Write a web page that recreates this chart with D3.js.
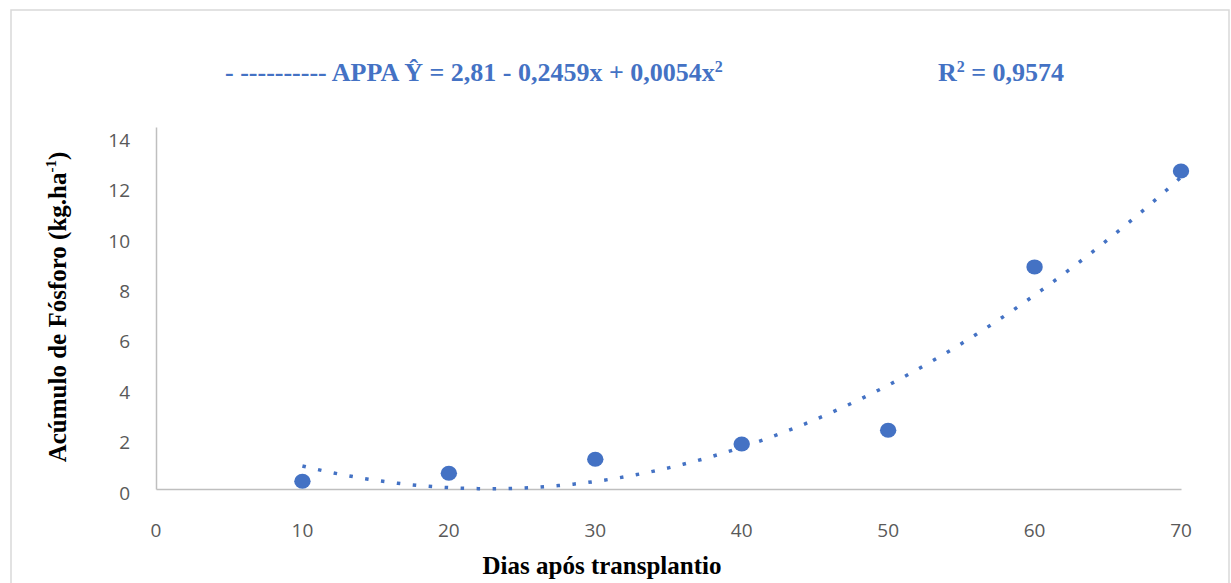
<!DOCTYPE html>
<html>
<head>
<meta charset="utf-8">
<script src="https://cdn.jsdelivr.net/npm/d3@7/dist/d3.min.js"></script>
<style>
  html, body { margin: 0; padding: 0; background: #fff; }
  svg { display: block; }
</style>
</head>
<body>
<svg id="chart" width="1231" height="583"></svg>
<script>
// ---- data ----
const days = [10, 20, 30, 40, 50, 60, 70];
const phosphorus = [0.30, 0.61, 1.15, 1.74, 2.27, 8.59, 12.30];
const xTicks = [0, 10, 20, 30, 40, 50, 60, 70];
const yTicks = [0, 2, 4, 6, 8, 10, 12, 14];
const trendCoefficients = [2.81, -0.2459, 0.0054]; // APPA Ŷ = 2,81 - 0,2459x + 0,0054x²
const trendRange = [10, 70];
const legendEquation = "APPA Ŷ = 2,81 - 0,2459x + 0,0054x";
const legendR2 = " = 0,9574";
const xTitle = "Dias após transplantio";
const yTitle = "Acúmulo de Fósforo (kg.ha";

const blue = "#4472C4";
const svg = d3.select("#chart");

// outer chart border
svg.append("rect").attr("x", 11).attr("y", 10).attr("width", 1218).attr("height", 600)
  .attr("fill", "none").attr("stroke", "#d9d9d9").attr("stroke-width", 1.5);

const x = d3.scaleLinear().domain([0, 70]).range([156, 1181]);
const y = d3.scaleLinear().domain([0, 14]).range([489, 127]);
// tick labels of the reference sit slightly off the plotted scale
const yLab = d3.scaleLinear().domain([0, 14]).range([493, 140]);

// axes lines
const xAxis = d3.axisBottom(x).tickValues(xTicks).tickSize(0).tickPadding(0).tickFormat("");
svg.append("g").attr("transform", `translate(0,${y(0)})`).call(xAxis)
  .call(g => g.select(".domain").attr("stroke", "#bfbfbf").attr("stroke-width", 1.5));
const yAxis = d3.axisLeft(y).tickValues(yTicks).tickSize(0).tickFormat("");
svg.append("g").attr("transform", `translate(${x(0)},0)`).call(yAxis)
  .call(g => g.select(".domain").attr("stroke", "#bfbfbf").attr("stroke-width", 1.5));

// tick labels
svg.append("g").selectAll("text").data(xTicks).join("text")
  .attr("x", d => x(d)).attr("y", 537)
  .attr("text-anchor", "middle")
  .attr("font-family", "'Open Sans', sans-serif").attr("font-size", 19)
  .attr("fill", "#595959").text(d => d);
svg.append("g").selectAll("text").data(yTicks).join("text")
  .attr("x", 130).attr("y", d => yLab(d)).attr("dy", "0.35em")
  .attr("text-anchor", "end")
  .attr("font-family", "'Open Sans', sans-serif").attr("font-size", 19)
  .attr("fill", "#595959").text(d => d);

// trend line
const poly = v => trendCoefficients[0] + trendCoefficients[1] * v + trendCoefficients[2] * v * v;
const trendPts = d3.range(trendRange[0], trendRange[1] + 0.001, 0.5).map(v => [v, poly(v)]);
svg.append("path").datum(trendPts)
  .attr("d", d3.line().x(d => x(d[0])).y(d => y(d[1])).curve(d3.curveMonotoneX))
  .attr("fill", "none").attr("stroke", blue).attr("stroke-width", 3.5)
  .attr("stroke-dasharray", "3.5,12.5");

// points
svg.append("g").selectAll("ellipse").data(days).join("ellipse")
  .attr("cx", d => x(d)).attr("cy", (d, i) => y(phosphorus[i]))
  .attr("rx", 8.2).attr("ry", 7.5).attr("fill", blue);

// legend
const leg = svg.append("text").attr("x", 225).attr("y", 81)
  .attr("font-family", "'Liberation Serif', 'Times New Roman', serif")
  .attr("font-weight", "bold").attr("font-size", 26).attr("fill", blue);
leg.append("tspan").text("- ---------- " + legendEquation);
leg.append("tspan").attr("font-size", 16).attr("dy", -9).text("2");

const r2 = svg.append("text").attr("x", 938).attr("y", 81)
  .attr("font-family", "'Liberation Serif', 'Times New Roman', serif")
  .attr("font-weight", "bold").attr("font-size", 26).attr("fill", blue);
r2.append("tspan").text("R");
r2.append("tspan").attr("font-size", 16).attr("dy", -9).text("2");
r2.append("tspan").attr("dy", 9).text(legendR2);

// axis titles
svg.append("text").attr("x", 602).attr("y", 574).attr("text-anchor", "middle")
  .attr("font-family", "'Liberation Serif', 'Times New Roman', serif")
  .attr("font-weight", "bold").attr("font-size", 25).attr("fill", "#000").text(xTitle);

const yt = svg.append("text").attr("transform", "translate(66,307) rotate(-90)")
  .attr("text-anchor", "middle")
  .attr("font-family", "'Liberation Serif', 'Times New Roman', serif")
  .attr("font-weight", "bold").attr("font-size", 25).attr("fill", "#000");
yt.append("tspan").text(yTitle);
yt.append("tspan").attr("font-size", 15).attr("dy", -10).text("-1");
yt.append("tspan").attr("dy", 10).text(")");
</script>
</body>
</html>
